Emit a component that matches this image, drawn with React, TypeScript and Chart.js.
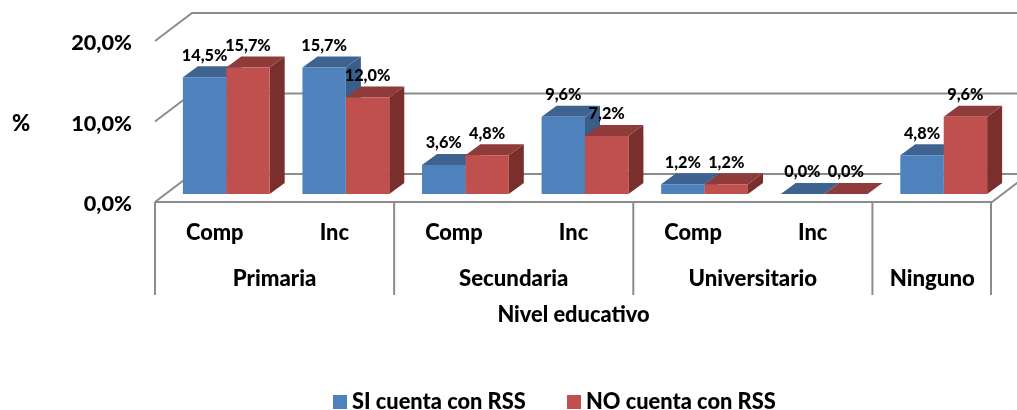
import React, { useEffect, useRef } from "react";
import { Chart, registerables } from "chart.js";

Chart.register(...registerables);

const categories = ["Comp", "Inc", "Comp", "Inc", "Comp", "Inc", ""];
const siValues = [14.5, 15.7, 3.6, 9.6, 1.2, 0.0, 4.8];
const noValues = [15.7, 12.0, 4.8, 7.2, 1.2, 0.0, 9.6];
const groupLabels = ["Primaria", "Secundaria", "Universitario", "Ninguno"];
const groupSpans = [2, 2, 2, 1];
const yTicks = [0, 10, 20];

const FONT = "Lato, Carlito, sans-serif";
const WEIGHT = 900;
const GRID = "#8c8c8c";
const TEXT = "#000000";
const WALL_DX = 37;
const WALL_DY = 28;
const BAR_SHIFT_X = 11.5;
const BAR_SHIFT_Y = 8;
const BAR_DX = 15;
const BAR_DY = 11;

const faceColors = [
  { top: "#3e6391", side: "#3a5e8a" },
  { top: "#8e3b39", side: "#7a2f2d" },
];

const fmt = (v: number) => v.toFixed(1).replace(".", ",") + "%";

function line(ctx: CanvasRenderingContext2D, pts: number[][]) {
  ctx.beginPath();
  pts.forEach((p, i) => (i ? ctx.lineTo(p[0], p[1]) : ctx.moveTo(p[0], p[1])));
  ctx.stroke();
}
function poly(ctx: CanvasRenderingContext2D, pts: number[][], fill: string) {
  ctx.beginPath();
  pts.forEach((p, i) => (i ? ctx.lineTo(p[0], p[1]) : ctx.moveTo(p[0], p[1])));
  ctx.closePath();
  ctx.fillStyle = fill;
  ctx.fill();
}

const bar3d = {
  id: "bar3d",
  beforeDatasetsDraw(chart: any) {
    const { ctx, chartArea: a, scales } = chart;
    const y = scales.y;
    const x = scales.x;
    ctx.save();
    ctx.lineWidth = 2;
    ctx.strokeStyle = GRID;
    // walls and floor
    yTicks.forEach((t) => {
      const py = y.getPixelForValue(t);
      line(ctx, [
        [a.left, py],
        [a.left + WALL_DX, py - WALL_DY],
        [a.right + WALL_DX, py - WALL_DY],
      ]);
    });
    const y0 = y.getPixelForValue(0);
    line(ctx, [
      [a.left, y0],
      [a.right, y0],
      [a.right + WALL_DX, y0 - WALL_DY],
    ]);
    // multi-level category frame and labels
    const cat = (a.right - a.left) / categories.length;
    let idx = 0;
    const bottom = 295;
    line(ctx, [[a.left, y0], [a.left, bottom]]);
    ctx.font = WEIGHT + " 22.2px " + FONT;
    ctx.fillStyle = TEXT;
    ctx.textAlign = "center";
    ctx.textBaseline = "middle";
    groupLabels.forEach((g, i) => {
      const start = x.getPixelForValue(idx) - cat / 2;
      const end = x.getPixelForValue(idx + groupSpans[i] - 1) + cat / 2;
      line(ctx, [[end - (i === 3 ? 1 : 0), y0], [end - (i === 3 ? 1 : 0), bottom]]);
      ctx.fillText(g, (start + end) / 2, 279);
      idx += groupSpans[i];
    });
    // "%" axis caption
    ctx.font = WEIGHT + " 22px " + FONT;
    ctx.fillText("%", 21, 124);
    // bar depth faces, blue then red
    chart.data.datasets.forEach((_: any, di: number) => {
      chart.getDatasetMeta(di).data.forEach((el: any) => {
        const r = el.x + el.width / 2 + BAR_SHIFT_X;
        const l = el.x - el.width / 2 + BAR_SHIFT_X;
        const t = el.y - BAR_SHIFT_Y;
        const b = el.base - BAR_SHIFT_Y;
        poly(ctx, [[r, t], [r + BAR_DX, t - BAR_DY], [r + BAR_DX, b - BAR_DY], [r, b]], faceColors[di].side);
        poly(ctx, [[l, t], [l + BAR_DX, t - BAR_DY], [r + BAR_DX, t - BAR_DY], [r, t]], faceColors[di].top);
      });
    });
    ctx.restore();
    ctx.save();
    ctx.translate(BAR_SHIFT_X, -BAR_SHIFT_Y);
  },
  afterDatasetsDraw(chart: any) {
    const { ctx } = chart;
    ctx.restore();
    ctx.save();
    ctx.font = WEIGHT + " 16.3px " + FONT;
    ctx.fillStyle = TEXT;
    ctx.textAlign = "center";
    ctx.textBaseline = "middle";
    chart.data.datasets.forEach((ds: any, di: number) => {
      chart.getDatasetMeta(di).data.forEach((el: any, i: number) => {
        ctx.fillText(fmt(ds.data[i]), el.x + BAR_SHIFT_X, el.y - BAR_SHIFT_Y - 22);
      });
    });
    // legend
    const boxes = [333, 567];
    ctx.font = WEIGHT + " 21.8px " + FONT;
    ctx.textAlign = "left";
    chart.data.datasets.forEach((ds: any, di: number) => {
      ctx.fillStyle = ds.backgroundColor;
      ctx.fillRect(boxes[di], 395, 14, 14);
      ctx.fillStyle = TEXT;
      ctx.fillText(ds.label, boxes[di] + 19, 402);
    });
    ctx.restore();
  },
};

export default function App() {
  const ref = useRef<HTMLCanvasElement>(null);
  useEffect(() => {
    document.body.style.margin = "0";
    const chart = new Chart(ref.current as HTMLCanvasElement, {
      type: "bar",
      data: {
        labels: categories,
        datasets: [
          { label: "SI cuenta con RSS", data: siValues, backgroundColor: "#4f81bd", clip: false as any },
          { label: "NO cuenta con RSS", data: noValues, backgroundColor: "#c0504d", clip: false as any },
        ],
      },
      options: {
        responsive: false,
        animation: false,
        layout: { padding: { top: 41, right: 25, left: 0, bottom: 0 } },
        plugins: { legend: { display: false }, tooltip: { enabled: false } },
        datasets: { bar: { categoryPercentage: 0.726, barPercentage: 1 } },
        scales: {
          x: {
            grid: { display: false, drawTicks: false },
            border: { display: false },
            afterFit: (s: any) => { s.height = 208; },
            ticks: {
              autoSkip: false,
              maxRotation: 0,
              padding: 18,
              color: TEXT,
              font: { family: FONT, size: 21.8, weight: WEIGHT },
            },
            title: {
              display: true,
              text: "Nivel educativo",
              color: TEXT,
              font: { family: FONT, size: 21.8, weight: WEIGHT },
              padding: { top: 0, bottom: 82 },
            },
          },
          y: {
            min: 0,
            max: 20,
            grid: { display: false, drawTicks: false },
            border: { display: false },
            afterFit: (s: any) => { s.width = 155; },
            ticks: {
              stepSize: 10,
              padding: 23,
              color: TEXT,
              font: { family: FONT, size: 21.7, weight: WEIGHT, lineHeight: 0.2 },
              callback: (v: any) => ["", fmt(Number(v))],
            },
          },
        },
      } as any,
      plugins: [bar3d],
    });
    return () => chart.destroy();
  }, []);
  return <canvas ref={ref} width={1017} height={410} style={{ display: "block" }} />;
}
